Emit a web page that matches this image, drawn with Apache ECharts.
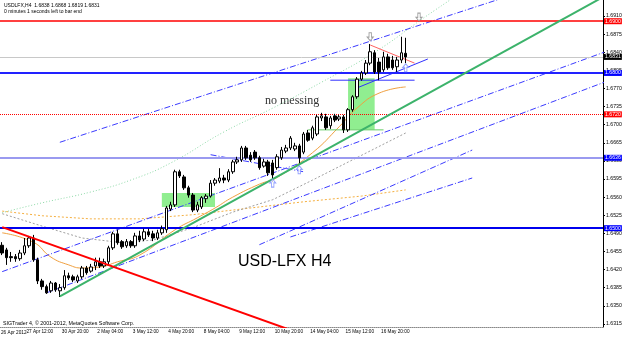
<!DOCTYPE html>
<html>
<head>
<meta charset="utf-8">
<script src="https://cdn.jsdelivr.net/npm/echarts@6/dist/echarts.min.js"></script>
<style>
html, body { margin: 0; padding: 0; background: #fff; }
#chart { width: 625px; height: 338px; }
</style>
</head>
<body>
<div id="chart"></div>
<script>
// USDLFX H4 bars, [open, close, low, high]
const bars = [
  [1.6467, 1.6452, 1.6448, 1.6473], [1.6458, 1.6443, 1.6429, 1.6462], [1.6445, 1.6443, 1.6435, 1.6454],
  [1.6445, 1.6441, 1.6435, 1.6450], [1.6441, 1.6452, 1.6437, 1.6458], [1.6452, 1.6466, 1.6448, 1.6481],
  [1.6466, 1.6481, 1.6462, 1.6485], [1.6481, 1.6439, 1.6435, 1.6487], [1.6439, 1.6398, 1.6392, 1.6443],
  [1.6398, 1.6387, 1.6381, 1.6402], [1.6387, 1.6375, 1.6373, 1.6391], [1.6379, 1.6394, 1.6375, 1.6398],
  [1.6394, 1.6381, 1.6377, 1.6396], [1.6379, 1.6385, 1.6367, 1.6392], [1.6385, 1.6408, 1.6381, 1.6419],
  [1.6408, 1.6404, 1.6400, 1.6414], [1.6406, 1.6400, 1.6396, 1.6410], [1.6398, 1.6406, 1.6394, 1.6410],
  [1.6406, 1.6423, 1.6402, 1.6427], [1.6423, 1.6414, 1.6410, 1.6427], [1.6417, 1.6425, 1.6414, 1.6431],
  [1.6427, 1.6435, 1.6419, 1.6443], [1.6435, 1.6427, 1.6423, 1.6443], [1.6427, 1.6435, 1.6423, 1.6441],
  [1.6435, 1.6462, 1.6429, 1.6466], [1.6462, 1.6489, 1.6458, 1.6493], [1.6489, 1.6472, 1.6468, 1.6497],
  [1.6474, 1.6464, 1.6460, 1.6477], [1.6466, 1.6474, 1.6462, 1.6479], [1.6474, 1.6466, 1.6462, 1.6477],
  [1.6466, 1.6485, 1.6462, 1.6491], [1.6485, 1.6477, 1.6473, 1.6495], [1.6479, 1.6493, 1.6475, 1.6499],
  [1.6493, 1.6487, 1.6483, 1.6499], [1.6489, 1.6481, 1.6475, 1.6495], [1.6481, 1.6491, 1.6477, 1.6497],
  [1.6491, 1.6499, 1.6487, 1.6505], [1.6497, 1.6539, 1.6491, 1.6543], [1.6537, 1.6545, 1.6533, 1.6551],
  [1.6545, 1.6609, 1.6541, 1.6613], [1.6609, 1.6601, 1.6597, 1.6613], [1.6599, 1.6578, 1.6574, 1.6603],
  [1.6578, 1.6564, 1.6559, 1.6582], [1.6564, 1.6535, 1.6531, 1.6568], [1.6535, 1.6545, 1.6531, 1.6551],
  [1.6541, 1.6559, 1.6537, 1.6562], [1.6557, 1.6562, 1.6549, 1.6566], [1.6562, 1.6587, 1.6559, 1.6593],
  [1.6587, 1.6593, 1.6582, 1.6597], [1.6591, 1.6597, 1.6587, 1.6616], [1.6597, 1.6593, 1.6587, 1.6603],
  [1.6593, 1.6609, 1.6589, 1.6614], [1.6609, 1.6628, 1.6605, 1.6632], [1.6628, 1.6632, 1.6624, 1.6638],
  [1.6632, 1.6655, 1.6628, 1.6659], [1.6655, 1.6636, 1.6632, 1.6659], [1.6641, 1.6632, 1.6628, 1.6647],
  [1.6647, 1.6636, 1.6632, 1.6651], [1.6636, 1.6617, 1.6613, 1.6640], [1.6620, 1.6628, 1.6617, 1.6634],
  [1.6628, 1.6607, 1.6601, 1.6632], [1.6626, 1.6603, 1.6589, 1.6632], [1.6617, 1.6638, 1.6613, 1.6643],
  [1.6636, 1.6651, 1.6632, 1.6657], [1.6649, 1.6655, 1.6645, 1.6661], [1.6655, 1.6674, 1.6651, 1.6678],
  [1.6653, 1.6659, 1.6649, 1.6665], [1.6659, 1.6636, 1.6622, 1.6663], [1.6647, 1.6682, 1.6643, 1.6686],
  [1.6684, 1.6670, 1.6667, 1.6690], [1.6674, 1.6694, 1.6670, 1.6698], [1.6682, 1.6715, 1.6678, 1.6719],
  [1.6713, 1.6717, 1.6707, 1.6723], [1.6715, 1.6694, 1.6690, 1.6721], [1.6698, 1.6713, 1.6692, 1.6717],
  [1.6717, 1.6709, 1.6705, 1.6721], [1.6711, 1.6715, 1.6707, 1.6719], [1.6715, 1.6690, 1.6684, 1.6719],
  [1.6690, 1.6729, 1.6686, 1.6732], [1.6729, 1.6754, 1.6725, 1.6757], [1.6754, 1.6788, 1.6750, 1.6792],
  [1.6788, 1.6800, 1.6785, 1.6804], [1.6800, 1.6819, 1.6796, 1.6825], [1.6819, 1.6841, 1.6815, 1.6856],
  [1.6839, 1.6802, 1.6798, 1.6844], [1.6821, 1.6802, 1.6786, 1.6829], [1.6806, 1.6831, 1.6802, 1.6841],
  [1.6831, 1.6810, 1.6806, 1.6837], [1.6825, 1.6810, 1.6806, 1.6833], [1.6812, 1.6825, 1.6802, 1.6831],
  [1.6825, 1.6839, 1.6819, 1.6870], [1.6838, 1.6831, 1.6819, 1.6868]
];

// time labels under the chart, by bar index
const firstTimeLabel = '26 Apr 2012';
const timeTickBars = [5, 13, 21, 29, 37, 45, 53, 61, 69, 77, 85];
const timeTickLabels = ['27 Apr 12:00', '30 Apr 20:00', '2 May 04:00', '3 May 12:00', '4 May 20:00',
  '8 May 04:00', '9 May 12:00', '10 May 20:00', '14 May 04:00', '15 May 12:00', '16 May 20:00'];
const slotCount = 136; // bars + empty space on the right

const priceTicks = [1.6315, 1.6350, 1.6385, 1.6420, 1.6455, 1.6490, 1.6525, 1.6560, 1.6595,
  1.6630, 1.6665, 1.6700, 1.6735, 1.6770, 1.6805, 1.6840, 1.6875, 1.6910];

// horizontal levels
const levelPrices = [1.6900, 1.6831, 1.6800, 1.6720, 1.6636, 1.6500];

// moving averages, sampled [bar, price]
const maFast = [[0, 1.6491], [7, 1.6473], [11, 1.6444], [15, 1.6429], [18, 1.6423], [22, 1.6425], [26, 1.6435],
  [31, 1.6448], [39, 1.6497], [44, 1.6520], [48, 1.6539], [52, 1.6560], [58, 1.6585], [62, 1.6598],
  [70, 1.6646], [76, 1.6696], [80, 1.6732], [85, 1.6761], [91, 1.6773]];
const maSlow = [[0, 1.6533], [9, 1.6524], [20, 1.6518], [31, 1.6518], [43, 1.6526], [54, 1.6537],
  [68, 1.6551], [81, 1.6562], [91, 1.6574]];
const maGray = [[0, 1.6528], [9, 1.6504], [18, 1.6481], [27, 1.6472], [34, 1.6477], [43, 1.6501],
  [52, 1.6531], [61, 1.6555], [70, 1.6593], [79, 1.6632], [91, 1.6684]];
const greenDotted = [[0, 1.6530], [9, 1.6549], [20, 1.6570], [29, 1.6593], [38, 1.6626], [50, 1.6686],
  [61, 1.6732], [72, 1.6782], [84, 1.6840], [95, 1.6906], [101, 1.6941]];

// trend lines, [[bar, price], [bar, price]]
const greenTrend = [[13, 1.6368], [136, 1.6949]];
const redTrend = [[0, 1.6502], [70, 1.6288]];
const blueChannel = [
  [[13, 1.6666], [136.5, 1.7012]],
  [[0, 1.6416], [136.5, 1.6844]],
  [[10, 1.6375], [136.5, 1.6786]],
  [[57.5, 1.6468], [106.3, 1.6651]],
  [[65.4, 1.6483], [106.3, 1.6597]],
  [[47.2, 1.6642], [67.7, 1.6609]]
];
const redWedge = [[83, 1.6854], [93, 1.6819]];
const blueRise = [[80, 1.6771], [96, 1.6827]];
const blueFlat = [[74, 1.6786], [93, 1.6786]];
const greenFlat = [[69, 1.6690], [86, 1.6690]];

// boxes [[bar, price], [bar, price]]
const boxes = [[[36, 1.6568], [48, 1.6541]], [[78, 1.6790], [84, 1.6690]]];

// arrow marks [bar, price]
const upArrows = [[61, 1.6587], [67, 1.6613], [91, 1.6810]];
const downArrows = [[83, 1.6870], [94, 1.6908]];

const slots = Array.from({ length: slotCount }, (_, i) => String(i));
const tickMap = new Map(timeTickBars.map((b, k) => [b, timeTickLabels[k]]));

function segment(points, color, width, type, z) {
  return {
    type: 'line', data: points, symbol: 'none', silent: true, z: z || 4,
    lineStyle: { color: color, width: width, type: type || 'solid' }
  };
}

const levelStyles = [
  { color: '#ff0000', width: 1.5, type: 'solid', bg: '#ff0000' },
  { color: '#c8c8c8', width: 1, type: 'solid', bg: '#000000' },
  { color: '#2222ff', width: 2, type: 'solid', bg: '#0000ff' },
  { color: '#ff0000', width: 1, type: 'dotted', bg: '#ff0000' },
  { color: '#9a9af0', width: 2, type: 'solid', bg: '#0000ff' },
  { color: '#0000ee', width: 2, type: 'solid', bg: '#0000ff' }
];

const arrowPath = 'path://M5,0 L10,5 L7,5 L7,11 L3,11 L3,5 L0,5 Z';
const smallFont = 'Liberation Sans';

const chart = echarts.init(document.getElementById('chart'));
chart.setOption({
  animation: false,
  backgroundColor: '#fff',
  textStyle: { fontFamily: smallFont },
  grid: { left: 0, right: 22, top: 0, bottom: 11 },
  xAxis: {
    type: 'category',
    data: slots,
    axisLine: { lineStyle: { color: '#888', type: [1, 1] } },
    axisTick: { alignWithLabel: true, interval: (i) => tickMap.has(i), length: 3, lineStyle: { color: '#000' } },
    axisLabel: {
      interval: (i) => tickMap.has(i), formatter: (v, i) => tickMap.get(i) || '',
      showMinLabel: true, showMaxLabel: true, align: 'left', fontSize: 4.7, margin: 2, padding: [0, 0, 0, 2], color: '#000'
    },
    splitLine: { show: false }
  },
  yAxis: {
    type: 'value', position: 'right', min: 1.6309, max: 1.6941,
    axisLine: { show: true, lineStyle: { color: '#000' } },
    axisTick: { show: true, customValues: priceTicks, length: 2, lineStyle: { color: '#000' } },
    axisLabel: { customValues: priceTicks, formatter: (v) => v.toFixed(4), fontSize: 5.2, margin: 3, color: '#000' },
    splitLine: { show: false }
  },
  series: [
    {
      type: 'line', data: [], z: 1, silent: true,
      markArea: {
        silent: true,
        itemStyle: { color: '#90ee90' },
        data: boxes.map(b => [{ coord: b[0] }, { coord: b[1] }])
      }
    },
    segment(maSlow, '#f5b041', 1, [2, 2], 2),
    segment(maGray, '#a0a0a0', 1, [2, 2], 2),
    Object.assign(segment(greenDotted, '#8fd9a8', 1, [1, 2], 2), { smooth: true }),
    Object.assign(segment(maFast, '#f0a040', 1, 'solid', 2), { smooth: true }),
    ...blueChannel.map(l => segment(l, '#3b3bff', 1, [6, 2, 1, 2], 3)),
    segment(redWedge, '#ff6060', 1, 'solid', 3),
    segment(blueRise, '#3030ff', 1, 'solid', 3),
    segment(blueFlat, '#3030ff', 1, 'solid', 3),
    segment(greenFlat, '#66cc66', 1, 'solid', 3),
    {
      type: 'line', data: [], z: 3, silent: true,
      markLine: {
        silent: true, symbol: 'none', animation: false, precision: 4,
        data: levelPrices.map((p, k) => ({
          yAxis: p,
          lineStyle: { color: levelStyles[k].color, width: levelStyles[k].width, type: levelStyles[k].type },
          label: {
            show: true, position: 'end', distance: 1, formatter: p.toFixed(4),
            color: '#fff', backgroundColor: levelStyles[k].bg, fontSize: 5.2, padding: [1, 1, 0, 1]
          }
        }))
      }
    },
    {
      type: 'candlestick', data: bars, barWidth: 3, z: 5,
      itemStyle: { color: '#ffffff', color0: '#000000', borderColor: '#000000', borderColor0: '#000000', borderWidth: 1 }
    },
    segment(greenTrend, '#3cb36b', 2, 'solid', 6),
    segment(redTrend, '#ff0000', 2, 'solid', 6),
    {
      type: 'scatter', data: upArrows, symbol: arrowPath, symbolSize: [6, 8], z: 7, silent: true,
      itemStyle: { color: '#fff', borderColor: '#7b8cff', borderWidth: 1 }
    },
    {
      type: 'scatter', data: downArrows, symbol: arrowPath, symbolSize: [6, 8], symbolRotate: 180, z: 7, silent: true,
      itemStyle: { color: '#fff', borderColor: '#8a8a8a', borderWidth: 1 }
    }
  ],
  graphic: [
    { type: 'text', left: 4, top: 3, style: { text: 'USDLFX,H4  1.6838 1.6868 1.6819 1.6831', fontSize: 5, fill: '#000', fontFamily: smallFont } },
    { type: 'text', left: 4, top: 9, style: { text: '0 minutes 1 seconds left to bar end', fontSize: 5, fill: '#000', fontFamily: smallFont } },
    { type: 'text', left: 3, top: 321, style: { text: 'SIGTrader 4, \u00a9 2001-2012, MetaQuotes Software Corp.', fontSize: 5.3, fill: '#000', fontFamily: smallFont } },
    { type: 'text', left: 1, top: 330, style: { text: firstTimeLabel, fontSize: 4.7, fill: '#000', fontFamily: smallFont } },
    { type: 'text', left: 265, top: 95, style: { text: 'no messing', fontSize: 12, fill: '#333', fontFamily: 'Liberation Serif' } },
    { type: 'text', left: 238, top: 254, style: { text: 'USD-LFX H4', fontSize: 16, fill: '#000', fontFamily: 'Liberation Sans' } }
  ]
});
</script>
</body>
</html>
